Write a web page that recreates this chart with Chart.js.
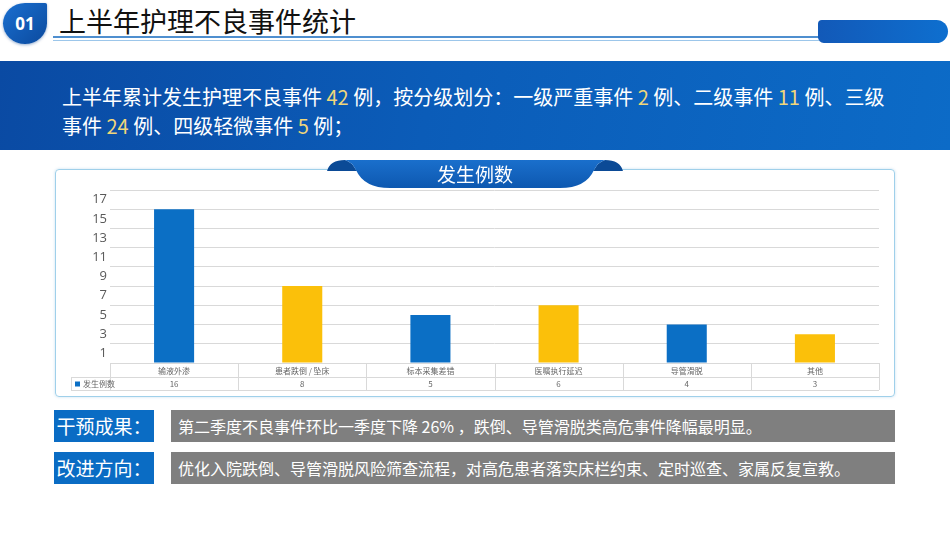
<!DOCTYPE html>
<html>
<head>
<meta charset="utf-8">
<script src="https://cdn.jsdelivr.net/npm/chart.js@4/dist/chart.umd.min.js"></script>
<style>
  body { margin: 0; width: 950px; height: 535px; background: #fff; position: relative; overflow: hidden;
         font-family: "Noto Sans CJK SC", "Noto Sans", sans-serif; }
  .abs { position: absolute; }
  #badge { left: 3px; top: 3px; width: 44px; height: 41px; background: linear-gradient(135deg, #1a6fd0, #0b4a9e);
           border-radius: 50% 4% 50% 50%; color: #fff; font: bold 17px "Open Sans", sans-serif;
           display: flex; align-items: center; justify-content: center; box-shadow: 0 1px 3px rgba(0,60,140,0.4); }
  #title { left: 59px; top: 4px; font-size: 27px; color: #111; line-height: 34px; }
  #line1 { left: 53px; top: 36px; width: 766px; height: 2px; background: #4f8fcf; }
  #line2 { left: 53px; top: 39.5px; width: 766px; height: 1.5px; background: #9cc6ea; }
  #pill { left: 818px; top: 20px; width: 130px; height: 23px; background: linear-gradient(90deg, #1259b8, #0e6fcf);
          border-radius: 4px 12px 12px 6px; }
  #banner { left: 0; top: 61px; width: 950px; height: 89px;
            background: linear-gradient(100deg, #0a4aa3 0%, #0b5cb8 45%, #0c6bc7 100%); }
  #banner p { margin: 0; position: absolute; left: 62px; color: #fff; font-size: 20px; line-height: 29px; white-space: nowrap; }
  #banner span { color: #f0d67a; }
  #box { left: 55px; top: 169px; width: 838px; height: 226px; border: 1px solid #9fd0ea; border-radius: 4px;
         box-shadow: 0 0 3px rgba(120,180,220,0.4); }
  .lbl { height: 32px; line-height: 32px; color: #fff; font-size: 19px; }
  .blue { left: 54px; width: 100px; background: #0a6cc4; text-align: center; }
  .gray { left: 171px; width: 724px; background: #7f7f7f; font-size: 16px; text-indent: 7px; }
</style>
</head>
<body>
<div id="badge" class="abs">01</div>
<div id="title" class="abs">上半年护理不良事件统计</div>
<div id="line1" class="abs"></div>
<div id="line2" class="abs"></div>
<div id="pill" class="abs"></div>

<div id="banner" class="abs">
  <p style="top:21px">上半年累计发生护理不良事件 <span>42</span> 例，按分级划分：一级严重事件 <span>2</span> 例、二级事件 <span>11</span> 例、三级</p>
  <p style="top:50px">事件 <span>24</span> 例、四级轻微事件 <span>5</span> 例；</p>
</div>

<div id="box" class="abs"></div>
<canvas id="chart" class="abs" width="838" height="225" style="left:56px;top:171px;width:838px;height:225px"></canvas>

<svg class="abs" style="left:0;top:0" width="950" height="200">
  <defs>
    <linearGradient id="rib" x1="0" y1="0" x2="0" y2="1">
      <stop offset="0" stop-color="#1a6fcc"/>
      <stop offset="1" stop-color="#0d58b0"/>
    </linearGradient>
  </defs>
  <path d="M327,171 Q330,160 345,160 Q352,162 356,170 L358,171 Z" fill="#0b4a96"/>
  <path d="M623,171 Q620,160 605,160 Q598,162 594,170 L592,171 Z" fill="#0b4a96"/>
  <path d="M345,160 L605,160 Q598,162 594,170 Q586,188 560,188 L390,188 Q364,188 356,170 Q352,162 345,160 Z" fill="url(#rib)"/>
  <text x="475" y="182" text-anchor="middle" fill="#fff" font-size="19" font-family="Noto Sans CJK SC">发生例数</text>
</svg>

<div class="abs lbl blue" style="top:410px">干预成果：</div>
<div class="abs lbl gray" style="top:410px">第二季度不良事件环比一季度下降 26% ，跌倒、导管滑脱类高危事件降幅最明显。</div>
<div class="abs lbl blue" style="top:452px">改进方向：</div>
<div class="abs lbl gray" style="top:452px">优化入院跌倒、导管滑脱风险筛查流程，对高危患者落实床栏约束、定时巡查、家属反复宣教。</div>

<script>
// chart data
const categories = ['输液外渗', '患者跌倒 / 坠床', '标本采集差错', '医嘱执行延迟', '导管滑脱', '其他'];
const counts = [16, 8, 5, 6, 4, 3];
const seriesName = '发生例数';
const yTicks = [1, 3, 5, 7, 9, 11, 13, 15, 17];

const BLUE = '#0b6fc5';
const YELLOW = '#fbc00a';

// data table under the plot, laid out from the x scale
const dataTable = {
  id: 'dataTable',
  afterDatasetsDraw(chart) {
    const ctx = chart.ctx;
    const area = chart.chartArea;
    const xs = chart.scales.x;
    const step = xs.getPixelForValue(1) - xs.getPixelForValue(0);
    const top = area.bottom, mid = top + 14, bot = mid + 13;
    const legLeft = area.left - 39;

    ctx.save();
    ctx.strokeStyle = '#d9d9d9';
    ctx.lineWidth = 1;
    ctx.beginPath();
    ctx.moveTo(area.left, top + 0.5); ctx.lineTo(area.right, top + 0.5);
    ctx.moveTo(legLeft, mid + 0.5); ctx.lineTo(area.right, mid + 0.5);
    ctx.moveTo(legLeft, bot + 0.5); ctx.lineTo(area.right, bot + 0.5);
    ctx.moveTo(legLeft + 0.5, mid); ctx.lineTo(legLeft + 0.5, bot);
    for (let i = 0; i <= categories.length; i++) {
      const x = Math.round(xs.getPixelForValue(0) - step / 2 + i * step) + 0.5;
      ctx.moveTo(x, top); ctx.lineTo(x, bot);
    }
    ctx.stroke();

    ctx.fillStyle = '#666';
    ctx.font = '8px "Noto Sans CJK SC"';
    ctx.textAlign = 'center';
    ctx.textBaseline = 'middle';
    categories.forEach((c, i) => {
      const x = xs.getPixelForValue(i);
      ctx.fillText(c, x, top + 7.5);
      ctx.fillText(String(counts[i]), x, mid + 7);
    });

    ctx.fillStyle = BLUE;
    ctx.fillRect(legLeft + 4, mid + 4.5, 5, 5);
    ctx.fillStyle = '#666';
    ctx.textAlign = 'left';
    ctx.fillText(seriesName, legLeft + 12, mid + 7);
    ctx.restore();
  }
};

new Chart(document.getElementById('chart'), {
  type: 'bar',
  data: {
    labels: categories,
    datasets: [{
      label: seriesName,
      data: counts,
      backgroundColor: ctx => ctx.dataIndex % 2 === 0 ? BLUE : YELLOW,
      barPercentage: 0.625,
      categoryPercentage: 0.5
    }]
  },
  options: {
    responsive: false,
    animation: false,
    layout: { padding: { top: 19, bottom: 33, right: 15, left: 0 } },
    plugins: { legend: { display: false }, tooltip: { enabled: false } },
    scales: {
      x: { display: false },
      y: {
        min: 0,
        max: 18,
        afterFit(scale) { scale.width = 54; },
        border: { display: false },
        grid: {
          drawTicks: false,
          color: ctx => ctx.tick && ctx.tick.value % 2 === 0 ? '#d9d9d9' : 'rgba(0,0,0,0)'
        },
        ticks: {
          stepSize: 1,
          autoSkip: false,
          padding: 3,
          color: '#595959',
          font: { size: 13, family: 'Open Sans' },
          callback: v => yTicks.includes(v) ? v : ''
        }
      }
    }
  },
  plugins: [dataTable]
});
</script>
</body>
</html>
